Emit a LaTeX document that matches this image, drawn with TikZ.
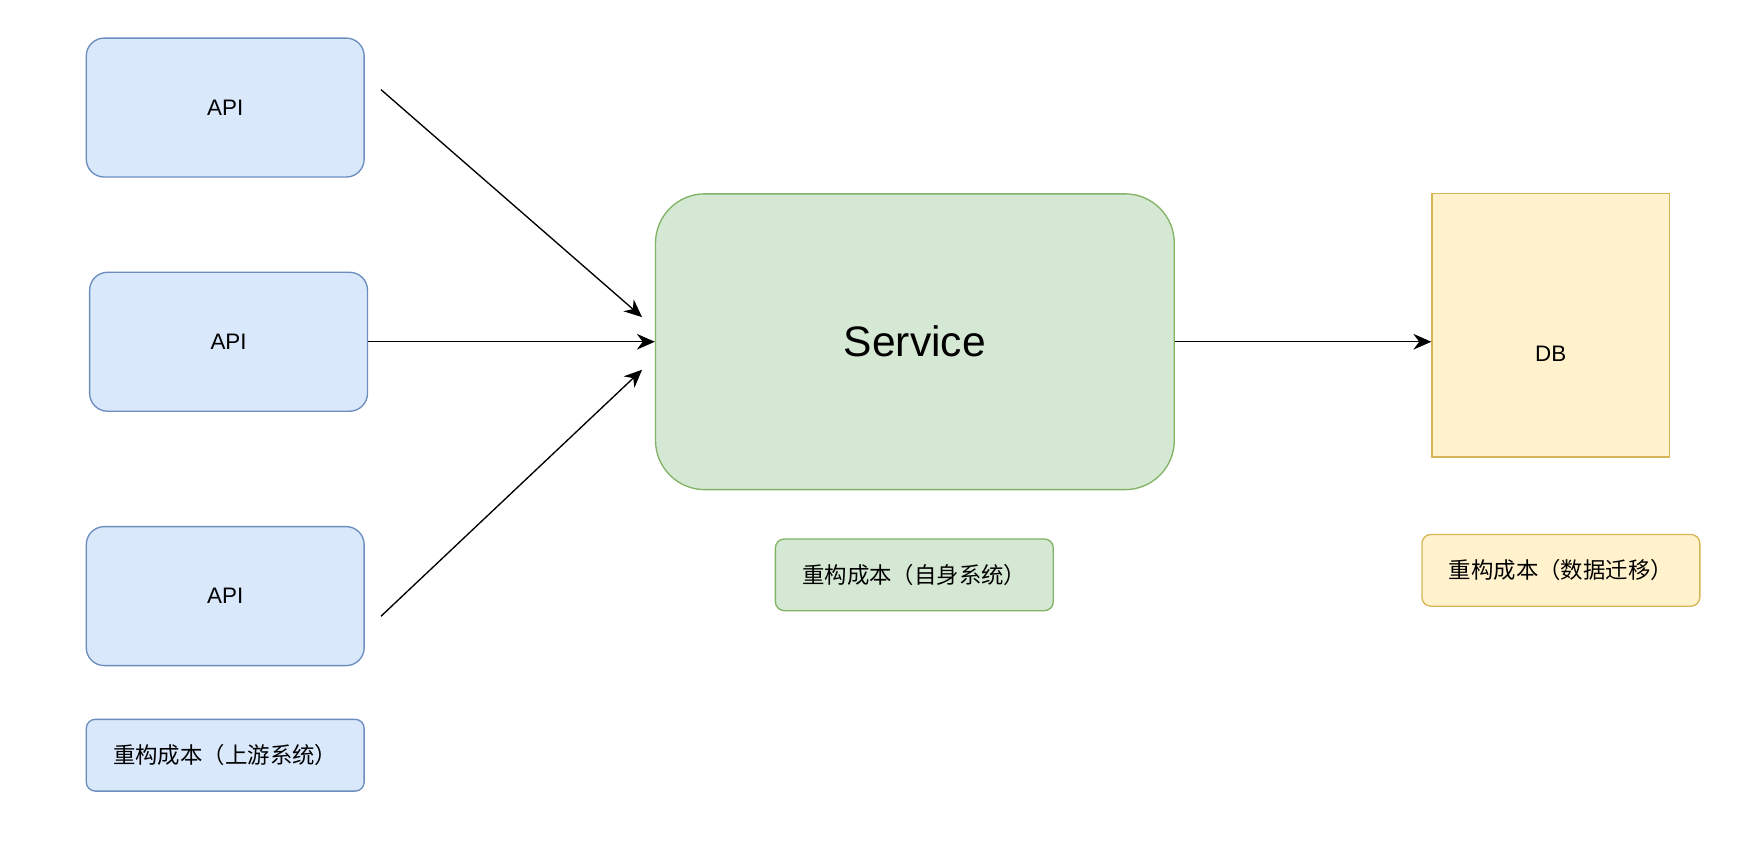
\documentclass[tikz,border=0pt]{standalone}
\usepackage{fontspec}
\setmainfont{Liberation Sans}
\newfontfamily\cjk{Noto Sans CJK SC}
\usetikzlibrary{shapes.geometric,arrows.meta}
\definecolor{bfill}{HTML}{DAE8FC}\definecolor{bline}{HTML}{6C8EBF}
\definecolor{gfill}{HTML}{D5E8D4}\definecolor{gline}{HTML}{82B366}
\definecolor{yfill}{HTML}{FFF2CC}\definecolor{yline}{HTML}{D6B656}
\tikzset{
 box/.style={rounded corners=8pt,draw,line width=0.6pt,inner sep=0pt,font=\fontsize{10}{12}\selectfont},
 bluebox/.style={box,fill=bfill,draw=bline},
 greenbox/.style={box,fill=gfill,draw=gline},
 yellowbox/.style={box,fill=yfill,draw=yline},
 arr/.style={-{Stealth[length=8pt,width=7pt]},line width=0.6pt}
}
\begin{document}
\begin{tikzpicture}[x=0.5pt,y=-0.5pt]
\useasboundingbox (0,0) rectangle (1560,753);
\node[bluebox,minimum width=124pt,minimum height=62pt] (a1) at (201,96) {API};
\node[bluebox,minimum width=124pt,minimum height=62pt] (a2) at (204,305) {API};
\node[bluebox,minimum width=124pt,minimum height=62pt] (a3) at (201,532) {API};
\node[bluebox,rounded corners=4pt,minimum width=124pt,minimum height=32pt] (l1) at (201,674) {\cjk 重构成本（上游系统）};
\node[greenbox,rounded corners=22pt,minimum width=231.5pt,minimum height=132pt,font=\fontsize{19}{22}\selectfont] (s) at (816.5,305) {Service};
\node[greenbox,rounded corners=4pt,minimum width=124pt,minimum height=32pt] (l2) at (816,513) {\cjk 重构成本（自身系统）};
\node[cylinder,shape border rotate=90,aspect=0.3,draw=yline,fill=yfill,line width=0.6pt,minimum width=106pt,minimum height=117.5pt,inner sep=0pt,font=\fontsize{10}{12}\selectfont] (db) at (1384,290.5) {};
\node at (1384,316) {\fontsize{10}{12}\selectfont DB};
\node[yellowbox,rounded corners=4pt,minimum width=124pt,minimum height=32pt] (l3) at (1393,509) {\cjk 重构成本（数据迁移）};
\coordinate (p1) at (340,80); \coordinate (q1) at (573,283);
\coordinate (p3) at (340,550); \coordinate (q3) at (573,330);
\draw[arr] (p1) -- (q1);
\draw[arr] (a2.east) -- (s.west);
\draw[arr] (p3) -- (q3);
\draw[arr] (s.east) -- (db.west |- s.east);
\end{tikzpicture}
\end{document}
